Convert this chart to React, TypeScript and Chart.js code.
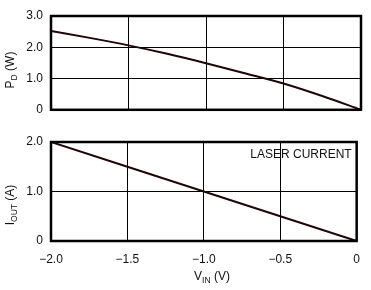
import React, { useEffect, useRef } from "react";
import { Chart, registerables } from "chart.js";

Chart.register(...registerables);

// ---- data ----
const vinP = [-2.0, -1.75, -1.5, -1.25, -1.0, -0.75, -0.5, -0.25, 0];
const pdW = [2.52, 2.3, 2.06, 1.79, 1.49, 1.17, 0.84, 0.44, 0];
const vinI = [-2.0, -1.5, -1.0, -0.5, 0];
const ioutA = [2.0, 1.5, 1.0, 0.5, 0];
const xMin = -2.0;
const xMax = 0;
const xStep = 0.5;
const pdMax = 3.0;
const ioutMax = 2.0;
const yStep = 1.0;
const annotation = "LASER CURRENT";

const FONT = '"Liberation Sans", Arial, Helvetica, sans-serif';
const INK = "#111111";
const LINE = "#1e0606";

type Part = { t: string; sub?: boolean };

function fmt(v: number): string {
  if (Math.abs(v) < 1e-9) return "0";
  return v.toFixed(1).replace("-", "\u2212");
}

function drawParts(
  ctx: CanvasRenderingContext2D,
  parts: Part[],
  cx: number,
  cy: number,
  rotate: boolean
) {
  const main = `12px ${FONT}`;
  const small = `8.5px ${FONT}`;
  ctx.save();
  ctx.translate(cx, cy);
  if (rotate) ctx.rotate(-Math.PI / 2);
  ctx.fillStyle = INK;
  ctx.textBaseline = "middle";
  ctx.textAlign = "left";
  let total = 0;
  const widths = parts.map((p) => {
    ctx.font = p.sub ? small : main;
    const w = ctx.measureText(p.t).width;
    total += w;
    return w;
  });
  let x = -total / 2;
  parts.forEach((p, i) => {
    ctx.font = p.sub ? small : main;
    ctx.fillText(p.t, x, p.sub ? 3.5 : 0);
    x += widths[i];
  });
  ctx.restore();
}

function makeBorderPlugin(extra: (chart: Chart) => void) {
  return {
    id: "frameAndLabels",
    afterDraw(chart: Chart) {
      const { ctx, chartArea } = chart;
      ctx.save();
      ctx.strokeStyle = "#000";
      ctx.lineWidth = 2.5;
      ctx.strokeRect(
        chartArea.left,
        chartArea.top,
        chartArea.right - chartArea.left,
        chartArea.bottom - chartArea.top
      );
      ctx.restore();
      extra(chart);
    },
  };
}

function baseX(showTicks: boolean, height: number) {
  return {
    type: "linear" as const,
    min: xMin,
    max: xMax,
    ticks: {
      display: showTicks,
      stepSize: xStep,
      padding: 11,
      color: INK,
      font: { family: FONT, size: 12 },
      maxRotation: 0,
      callback: (v: any) => fmt(Number(v)),
    },
    grid: { color: "#000", lineWidth: 1, drawTicks: false },
    border: { display: false },
    afterFit: (s: any) => {
      s.height = height;
    },
  };
}

function baseY(max: number) {
  return {
    type: "linear" as const,
    min: 0,
    max,
    ticks: {
      stepSize: yStep,
      padding: 8,
      color: INK,
      font: { family: FONT, size: 12 },
      callback: (v: any) => fmt(Number(v)),
    },
    grid: { color: "#000", lineWidth: 1, drawTicks: false },
    border: { display: false },
    afterFit: (s: any) => {
      s.width = 51;
    },
  };
}

export default function App() {
  const topRef = useRef<HTMLCanvasElement>(null);
  const botRef = useRef<HTMLCanvasElement>(null);

  useEffect(() => {
    const top = new Chart(topRef.current!, {
      type: "line",
      data: {
        datasets: [
          {
            data: vinP.map((x, i) => ({ x, y: pdW[i] })),
            borderColor: LINE,
            borderWidth: 2,
            pointRadius: 0,
            cubicInterpolationMode: "monotone",
            fill: false,
          },
        ],
      },
      options: {
        animation: false,
        responsive: false,
        devicePixelRatio: 1,
        layout: { padding: { top: 16, right: 10, left: 0, bottom: 12 } },
        plugins: { legend: { display: false }, tooltip: { enabled: false } },
        scales: { x: baseX(false, 0) as any, y: baseY(pdMax) as any },
      },
      plugins: [
        makeBorderPlugin((chart) => {
          drawParts(
            chart.ctx,
            [{ t: "P" }, { t: "D", sub: true }, { t: " (W)" }],
            11,
            70,
            true
          );
        }),
      ],
    });

    const bot = new Chart(botRef.current!, {
      type: "line",
      data: {
        datasets: [
          {
            data: vinI.map((x, i) => ({ x, y: ioutA[i] })),
            borderColor: LINE,
            borderWidth: 2,
            pointRadius: 0,
            fill: false,
          },
        ],
      },
      options: {
        animation: false,
        responsive: false,
        devicePixelRatio: 1,
        layout: { padding: { top: 17, right: 10, left: 0, bottom: 0 } },
        plugins: { legend: { display: false }, tooltip: { enabled: false } },
        scales: { x: baseX(true, 49) as any, y: baseY(ioutMax) as any },
      },
      plugins: [
        makeBorderPlugin((chart) => {
          const ctx = chart.ctx;
          drawParts(
            ctx,
            [{ t: "I" }, { t: "OUT", sub: true }, { t: " (A)" }],
            11,
            80,
            true
          );
          drawParts(
            ctx,
            [{ t: "V" }, { t: "IN", sub: true }, { t: " (V)" }],
            212,
            152,
            false
          );
          ctx.save();
          ctx.font = `12px ${FONT}`;
          ctx.fillStyle = INK;
          ctx.textAlign = "right";
          ctx.textBaseline = "middle";
          ctx.fillText(annotation, chart.chartArea.right - 5, 30);
          ctx.restore();
        }),
      ],
    });

    return () => {
      top.destroy();
      bot.destroy();
    };
  }, []);

  return (
    <div
      style={{
        position: "fixed",
        left: 0,
        top: 0,
        width: 371,
        height: 290,
        background: "#fff",
      }}
    >
      <canvas
        ref={topRef}
        width={371}
        height={125}
        style={{ position: "absolute", left: 0, top: 0, width: 371, height: 125 }}
      />
      <canvas
        ref={botRef}
        width={371}
        height={165}
        style={{ position: "absolute", left: 0, top: 125, width: 371, height: 165 }}
      />
    </div>
  );
}
